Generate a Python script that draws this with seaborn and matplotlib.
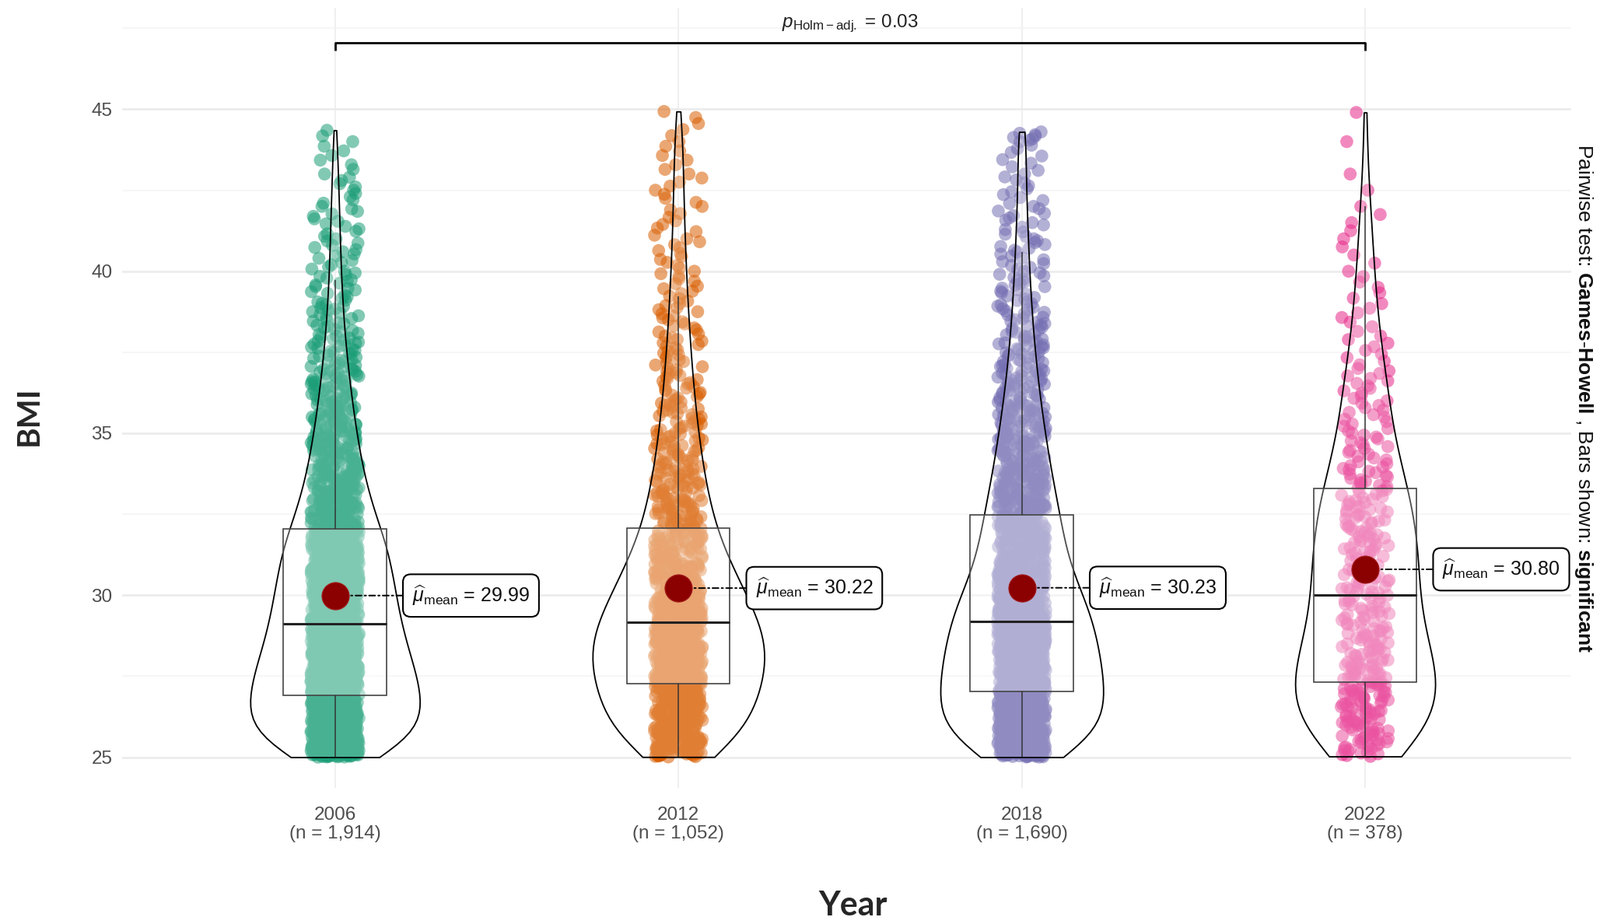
import numpy as np
import pandas as pd
import matplotlib
matplotlib.use("Agg")
import matplotlib.pyplot as plt
import seaborn as sns

# ---------------- data ----------------
years = ["2006", "2012", "2018", "2022"]
n_obs = [1914, 1052, 1690, 378]
# 1-unit BMI bins starting at 25, 26, ..., 44 : number of observations per bin
bin_lo = list(range(25, 45))
counts_2006 = [250, 250, 235, 200, 180, 165, 150, 112, 86, 68, 54, 42, 32, 24, 19, 15, 13, 10, 7, 2]
counts_2012 = [108, 118, 135, 145, 118, 94, 67, 52, 42, 34, 28, 23, 19, 16, 13, 11, 9, 8, 7, 5]
counts_2018 = [205, 210, 205, 190, 175, 130, 107, 95, 78, 64, 52, 41, 33, 26, 21, 17, 14, 11, 9, 7]
counts_2022 = [38, 43, 44, 34, 30, 30, 30, 28, 23, 17, 14, 13, 9, 7, 6, 4, 4, 2, 1, 1]
bmi_max = [44.35, 44.93, 44.30, 44.90]
means = [29.99, 30.22, 30.23, 30.80]
palette = ["#1B9E77", "#D95F02", "#7570B3", "#E7298A"]
p_value_text = "0.03"
subtitle_parts = ["Pairwise test: ", "Games-Howell", " , Bars shown: ", "significant"]

counts_all = [counts_2006, counts_2012, counts_2018, counts_2022]

rows = []
for yr, cnts, vmax in zip(years, counts_all, bmi_max):
    for lo, c in zip(bin_lo, cnts):
        if c == 0:
            continue
        hi = min(lo + 1, vmax)
        vals = lo + (hi - lo) * np.arange(1, c + 1) / c
        rows.extend((yr, v) for v in vals)
df = pd.DataFrame(rows, columns=["year", "bmi"])

# ---------------- style ----------------
sns.set_style("white")
plt.rcParams["font.family"] = ["Liberation Sans", "DejaVu Sans"]
plt.rcParams["mathtext.fontset"] = "custom"
plt.rcParams["mathtext.rm"] = "Liberation Sans"
plt.rcParams["mathtext.it"] = "Liberation Sans:italic"
plt.rcParams["mathtext.bf"] = "Liberation Sans:bold"

fig = plt.figure(figsize=(20.57, 11.88), dpi=100)
ax = fig.add_axes([157 / 2057, 1 - 1013 / 1188, (2020 - 157) / 2057, (1013 - 10) / 1188])

# jittered points
sns.stripplot(data=df, x="year", y="bmi", order=years, hue="year", hue_order=years,
              palette=palette, jitter=0.07, size=12, alpha=0.55, linewidth=0,
              legend=False, ax=ax, zorder=1)

# violins
n0 = len(ax.collections)
sns.violinplot(data=df, x="year", y="bmi", order=years, cut=0, inner=None,
               density_norm="area", width=0.5, fill=True, color="white",
               linecolor="black", linewidth=1.3, bw_method="silverman", bw_adjust=0.85,
               ax=ax)
for coll in ax.collections[n0:]:
    coll.set_facecolor((1, 1, 1, 0.2))
    coll.set_edgecolor("black")

# boxes
sns.boxplot(data=df, x="year", y="bmi", order=years, width=0.3, whis=1.5,
            showfliers=False, showcaps=False, fill=True, color="white",
            linecolor="#333333", linewidth=1.2,
            boxprops=dict(facecolor=(1, 1, 1, 0.3), edgecolor="#444444", linewidth=1.2),
            whiskerprops=dict(color="#333333", linewidth=1.1),
            medianprops=dict(color="#222222", linewidth=2.2),
            ax=ax)

# means
pos = np.arange(len(years))
sns.scatterplot(x=pos, y=means, s=640, color="#8B0000", edgecolor="#A52020",
                linewidth=0.8, zorder=6, legend=False, ax=ax)
for i, m in enumerate(means):
    ax.annotate(r"$\widehat{\mu}_{\mathrm{mean}}$" + f" = {m:.2f}", xy=(i, m),
                xytext=(i + 0.225, m), textcoords="data", ha="left", va="center",
                fontsize=18, color="#111111", zorder=5,
                bbox=dict(boxstyle="round,pad=0.48,rounding_size=0.4", fc="white",
                          ec="black", lw=1.5),
                arrowprops=dict(arrowstyle="-", linestyle=(0, (4, 2, 1, 2)), color="black",
                                lw=1.4, shrinkA=0, shrinkB=0))

# significance bracket
y_br, y_tick = 47.05, 46.8
ax.plot([0, 0, 3, 3], [y_tick, y_br, y_br, y_tick], color="black", lw=2.0,
        solid_capstyle="butt", zorder=4)
ax.text(1.5, 47.65, r"$p_{\mathrm{Holm-adj.}}$" + f" = {p_value_text}", ha="center",
        va="center", fontsize=17.5, color="#222222")

# axes
ax.set_xlim(-0.62, 3.6)
ax.set_ylim(25 - (1013 - 973.6) / 41.66, 48.13)
ax.set_yticks([25, 30, 35, 40, 45])
ax.set_yticks([27.5, 32.5, 37.5, 42.5, 47.5], minor=True)
ax.set_xticks(pos)
ax.set_xticklabels([f"{y}\n(n = {n:,})" for y, n in zip(years, n_obs)],
                   linespacing=1.15)
ax.tick_params(axis="both", which="major", labelsize=17.5, labelcolor="#4D4D4D",
               color="#333333", length=6, width=1.2)
ax.tick_params(axis="x", which="major", pad=11)
ax.tick_params(axis="y", which="major", pad=3)
ax.tick_params(which="minor", length=0)
ax.set_xlabel("")
ax.set_ylabel("")
for sp in ax.spines.values():
    sp.set_visible(False)
ax.set_axisbelow(True)
ax.grid(which="major", axis="y", color="#EBEBEB", lw=1.8)
ax.grid(which="minor", axis="y", color="#F4F4F4", lw=1.1)
ax.grid(which="major", axis="x", color="#EBEBEB", lw=1.1)

# axis titles
fig.text(1097 / 2057, 1 - 1164 / 1188, "Year", ha="center", va="center",
         fontsize=31, fontweight="bold", family=["Lato", "DejaVu Sans"])
fig.text(37 / 2057, 1 - 535 / 1188, "BMI", ha="center", va="center", rotation=90,
         fontsize=29, fontweight="bold", family=["Lato", "DejaVu Sans"])

# right-hand caption
cap = (subtitle_parts[0] + r"$\mathbf{Games}$" + "-" + r"$\mathbf{Howell}$"
       + subtitle_parts[2] + r"$\mathbf{significant}$")
fig.text(2036 / 2057, 1 - 512 / 1188, cap, ha="center", va="center", rotation=270,
         fontsize=19, color="#111111")

fig.savefig("out.png", dpi=100)
